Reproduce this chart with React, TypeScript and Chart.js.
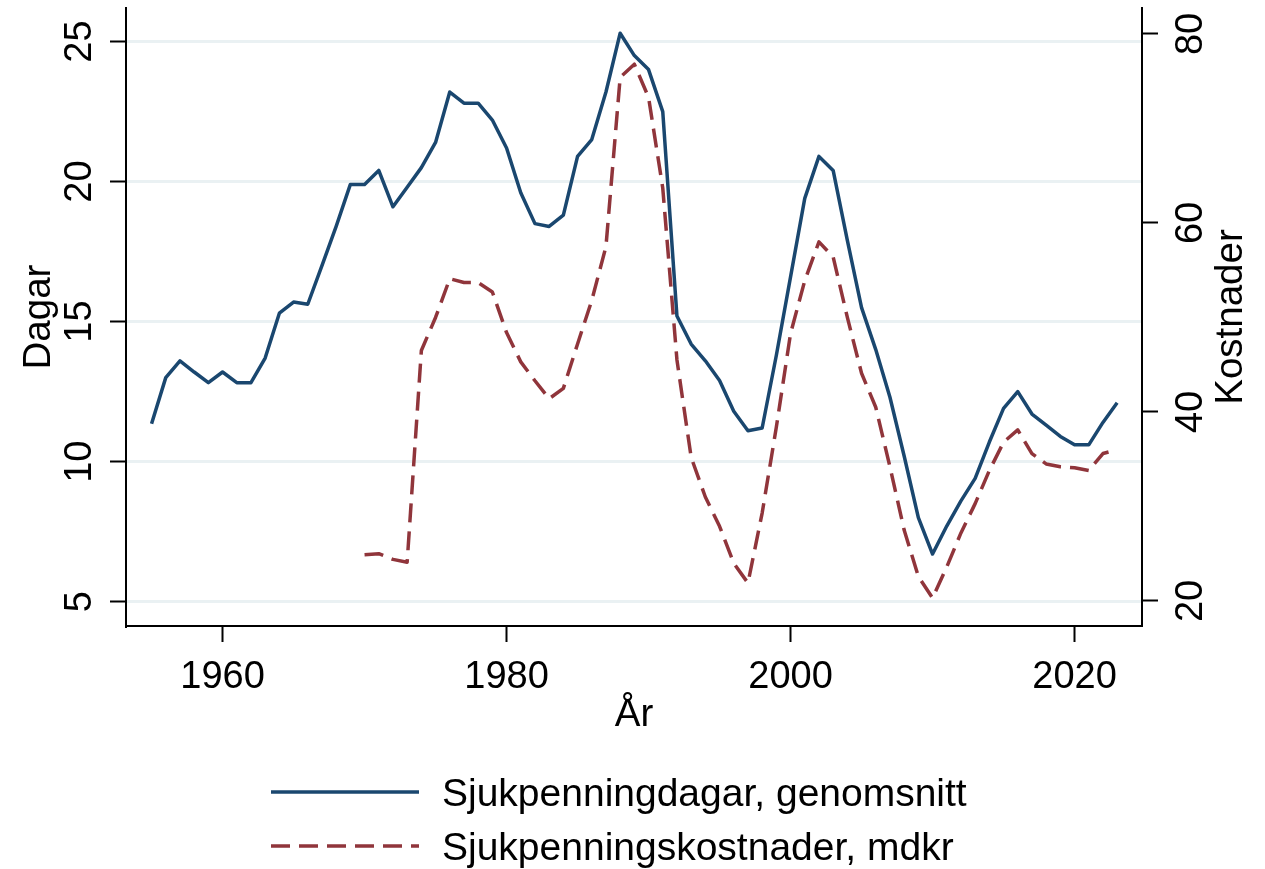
import React, { useEffect, useRef } from "react";
import { Chart, registerables } from "chart.js";

Chart.register(...registerables);

// ---- Data ----
const years = [
  1955, 1956, 1957, 1958, 1959, 1960, 1961, 1962, 1963, 1964,
  1965, 1966, 1967, 1968, 1969, 1970, 1971, 1972, 1973, 1974,
  1975, 1976, 1977, 1978, 1979, 1980, 1981, 1982, 1983, 1984,
  1985, 1986, 1987, 1988, 1989, 1990, 1991, 1992, 1993, 1994,
  1995, 1996, 1997, 1998, 1999, 2000, 2001, 2002, 2003, 2004,
  2005, 2006, 2007, 2008, 2009, 2010, 2011, 2012, 2013, 2014,
  2015, 2016, 2017, 2018, 2019, 2020, 2021, 2022, 2023,
];

// Sjukpenningdagar, genomsnitt (left axis, Dagar)
const sjukpenningdagar = [
  11.35, 13.0, 13.6, 13.2, 12.82, 13.2, 12.82, 12.82, 13.7, 15.3,
  15.7, 15.62, 17.0, 18.4, 19.9, 19.9, 20.4, 19.1, 19.8, 20.5,
  21.4, 23.2, 22.8, 22.8, 22.2, 21.2, 19.6, 18.5, 18.4, 18.8,
  20.9, 21.5, 23.2, 25.3, 24.5, 24.0, 22.5, 15.2, 14.2, 13.6,
  12.9, 11.8, 11.1, 11.2, 13.8, 16.6, 19.4, 20.9, 20.4, 17.9,
  15.5, 14.0, 12.3, 10.2, 8.0, 6.7, 7.7, 8.6, 9.4, 10.7,
  11.9, 12.5, 11.7, 11.3, 10.9, 10.6, 10.6, 11.4, 12.1,
];

// Sjukpenningskostnader, mdkr (right axis, Kostnader)
const sjukpenningskostnader = [
  null, null, null, null, null, null, null, null, null, null,
  null, null, null, null, null, 24.9, 25.0, 24.4, 24.1, 46.5,
  50.0, 54.1, 53.7, 53.7, 52.7, 48.4, 45.3, 43.3, 41.4, 42.5,
  47.2, 51.8, 57.5, 75.4, 76.8, 73.3, 63.7, 45.5, 35.2, 31.0,
  27.9, 24.0, 21.9, 29.3, 38.4, 48.3, 53.9, 58.0, 56.4, 50.0,
  44.1, 40.5, 34.2, 27.5, 22.6, 20.3, 23.6, 27.2, 30.3, 33.8,
  36.8, 38.1, 35.6, 34.5, 34.2, 34.1, 33.8, 35.6, 36.0,
];

const xTickValues = [1960, 1980, 2000, 2020];
const leftTickValues = [5, 10, 15, 20, 25];
const rightTickValues = [20, 40, 60, 80];

const seriesNames = ["Sjukpenningdagar, genomsnitt", "Sjukpenningskostnader, mdkr"];
const xTitle = "År";
const leftTitle = "Dagar";
const rightTitle = "Kostnader";

// ---- Styling ----
const W = 1265;
const H = 869;
const FONT_FAMILY = '"Liberation Sans", Arial, Helvetica, sans-serif';
const TICK_FONT = `38px ${FONT_FAMILY}`;
const TITLE_FONT = `38.5px ${FONT_FAMILY}`;
const LEGEND_FONT = `39px ${FONT_FAMILY}`;
const BLUE = "#1a476f";
const RED = "#90353b";
const GRID = "#eaf1f3";
const AXIS = "#000000";

const textPlugin = {
  id: "stataText",
  afterDraw(chart: any) {
    const ctx = chart.ctx as CanvasRenderingContext2D;
    const area = chart.chartArea;
    const xs = chart.scales.x;
    const yl = chart.scales.yL;
    const yr = chart.scales.yR;
    ctx.save();
    ctx.fillStyle = "#000";
    ctx.textBaseline = "alphabetic";
    ctx.textAlign = "center";

    ctx.font = TICK_FONT;
    xs.ticks.forEach((t: any) => {
      ctx.fillText(String(t.value), xs.getPixelForValue(t.value), 688);
    });

    const rot = (text: string, px: number, py: number) => {
      ctx.save();
      ctx.translate(px, py);
      ctx.rotate(-Math.PI / 2);
      ctx.textAlign = "center";
      ctx.fillText(text, 0, 0);
      ctx.restore();
    };

    yl.ticks.forEach((t: any) => rot(String(t.value), 90.5, yl.getPixelForValue(t.value)));
    yr.ticks.forEach((t: any) => rot(String(t.value), 1201.5, yr.getPixelForValue(t.value)));

    ctx.font = TITLE_FONT;
    ctx.fillText(xTitle, (area.left + area.right) / 2, 726);
    const midY = (area.top + area.bottom) / 2;
    rot(leftTitle, 50, midY);
    rot(rightTitle, 1242, midY);

    // Legend
    ctx.font = LEGEND_FONT;
    const rows = [792, 846];
    chart.data.datasets.forEach((ds: any, i: number) => {
      const ly = rows[i];
      ctx.save();
      ctx.strokeStyle = ds.borderColor;
      ctx.lineWidth = ds.borderWidth;
      ctx.setLineDash(ds.borderDash || []);
      ctx.lineCap = "butt";
      ctx.beginPath();
      ctx.moveTo(271, ly);
      ctx.lineTo(419, ly);
      ctx.stroke();
      ctx.restore();
      ctx.textAlign = "left";
      ctx.fillText(ds.label, 442, ly + 13.5);
    });
    ctx.restore();
  },
};

export default function App() {
  const canvasRef = useRef<HTMLCanvasElement | null>(null);

  useEffect(() => {
    const canvas = canvasRef.current;
    if (!canvas) return;

    const blueData = years.map((yr, i) => ({ x: yr, y: sjukpenningdagar[i] }));
    const redData = years.map((yr, i) => ({ x: yr, y: sjukpenningskostnader[i] }));

    const chart = new Chart(canvas, {
      type: "line",
      data: {
        datasets: [
          {
            label: seriesNames[0],
            data: blueData,
            yAxisID: "yL",
            borderColor: BLUE,
            backgroundColor: BLUE,
            borderWidth: 3.5,
            pointRadius: 0,
            tension: 0,
            borderJoinStyle: "round",
            order: 1,
          },
          {
            label: seriesNames[1],
            data: redData as any,
            yAxisID: "yR",
            borderColor: RED,
            backgroundColor: RED,
            borderWidth: 3.5,
            borderDash: [19, 9],
            pointRadius: 0,
            tension: 0,
            borderJoinStyle: "round",
            spanGaps: false,
            order: 0,
          },
        ],
      },
      options: {
        animation: false,
        responsive: false,
        maintainAspectRatio: false,
        devicePixelRatio: 1,
        layout: { padding: { top: 8, left: 0, right: 0, bottom: 0 } },
        plugins: {
          legend: { display: false },
          tooltip: { enabled: false },
          title: { display: false },
        },
        events: [],
        scales: {
          x: {
            type: "linear",
            position: "bottom",
            min: 1953.2,
            max: 2024.75,
            afterBuildTicks: (s: any) => {
              s.ticks = xTickValues.map((v) => ({ value: v }));
            },
            afterFit: (s: any) => {
              s.height = H - 626;
            },
            ticks: { display: false },
            grid: {
              display: true,
              drawOnChartArea: false,
              drawTicks: true,
              tickLength: 16,
              tickColor: AXIS,
              tickWidth: 2,
            },
            border: { display: true, color: AXIS, width: 2 },
          },
          yL: {
            type: "linear",
            position: "left",
            min: 4.13,
            max: 26.2,
            afterBuildTicks: (s: any) => {
              s.ticks = leftTickValues.map((v) => ({ value: v }));
            },
            afterFit: (s: any) => {
              s.width = 126;
            },
            ticks: { display: false },
            grid: {
              display: true,
              drawOnChartArea: true,
              color: GRID,
              lineWidth: 3,
              drawTicks: true,
              tickLength: 16,
              tickColor: AXIS,
              tickWidth: 2,
            },
            border: { display: true, color: AXIS, width: 2 },
          },
          yR: {
            type: "linear",
            position: "right",
            min: 17.35,
            max: 82.75,
            afterBuildTicks: (s: any) => {
              s.ticks = rightTickValues.map((v) => ({ value: v }));
            },
            afterFit: (s: any) => {
              s.width = W - 1142;
            },
            ticks: { display: false },
            grid: {
              display: true,
              drawOnChartArea: false,
              drawTicks: true,
              tickLength: 16,
              tickColor: AXIS,
              tickWidth: 2,
            },
            border: { display: true, color: AXIS, width: 2 },
          },
        },
      } as any,
      plugins: [textPlugin],
    });

    return () => {
      chart.destroy();
    };
  }, []);

  return (
    <div
      style={{
        position: "fixed",
        left: 0,
        top: 0,
        width: W,
        height: H,
        background: "#ffffff",
      }}
    >
      <canvas ref={canvasRef} width={W} height={H} style={{ display: "block", width: W, height: H }} />
    </div>
  );
}
